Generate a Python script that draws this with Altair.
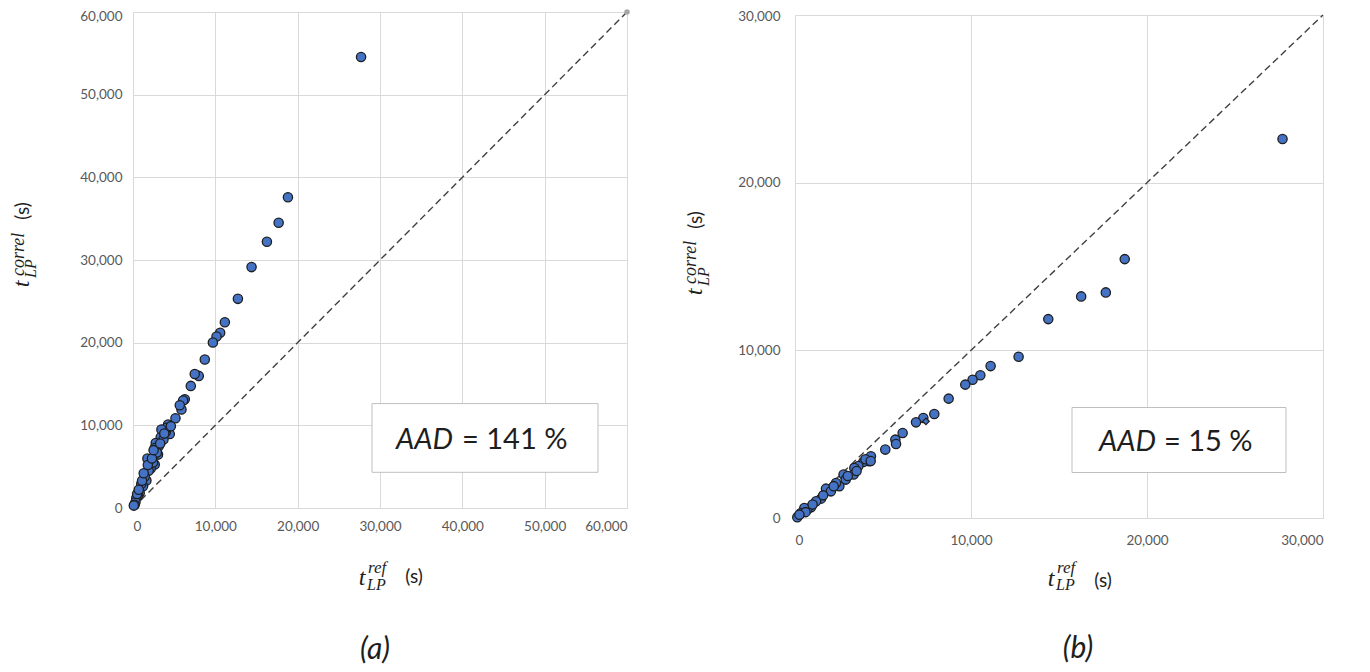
import altair as alt
import pandas as pd

# ---------------- data ----------------
# panel (a)
a_ref = [27700, 18820, 17690, 16265, 14400, 12740, 11155, 10585, 10145, 9700,
         8720, 7990, 7500, 7020, 6290, 6085, 5885, 5680, 5160, 4260,
         4465, 3980, 4100, 3370, 3450, 3700, 2760, 3130, 3040, 2640,
         2900, 1750, 2640, 2150, 2430, 1900, 1630, 1420, 1220, 1000,
         815, 600, 400, 300, 200, 100,
         500, 700, 1100, 1300, 1800, 2300, 2500, 3300, 3800, 4600]
a_cor = [54550, 37600, 34500, 32200, 29140, 25300, 22480, 21190, 20750, 20020,
         17960, 15980, 16220, 14770, 13160, 13000, 11910, 12430, 10860, 10090,
         8960, 9200, 9700, 8560, 9500, 8300, 7870, 7470, 6460, 7260,
         6700, 5980, 5250, 4770, 5500, 4500, 3315, 3800, 2630, 2900,
         1820, 1500, 1210, 700, 400, 290,
         1700, 2200, 3300, 4200, 5200, 6000, 7000, 7800, 9000, 9900]
# panel (b)
b_ref = [27700, 18735, 17660, 16260, 14390, 12705, 11115, 10530, 10090, 9675,
         8730, 7915, 7290, 6875, 6115, 5700, 5740, 5130, 4315, 4220,
         3880, 4000, 3600, 3370, 3330, 2760, 2880, 2520, 2330, 1760,
         2040, 1480, 1200, 910, 700, 530, 340, 130,
         1000, 1600, 2200, 3000, 3500, 4300, 600, 250]
b_cor = [22600, 15440, 13455, 13216, 11862, 9618, 9060, 8510, 8250, 7955,
         7120, 6200, 5965, 5705, 5070, 4675, 4415, 4080, 3680, 3380,
         3340, 3500, 3100, 2980, 2590, 2590, 2290, 1890, 2090, 1750,
         1590, 1155, 1000, 640, 500, 600, 300, 50,
         800, 1350, 1900, 2500, 2800, 3400, 350, 200]
b_ref_diamond = [7440]
b_cor_diamond = [5765]

a_diag = [0, 60000]
b_diag = [0, 30000]
a_ticks = [0, 10000, 20000, 30000, 40000, 50000, 60000]
b_ticks = [0, 10000, 20000, 30000]
a_aad = "= 141 %"
b_aad = "= 15 %"

BLUE = "#4472C4"
GRID = "#d9d9d9"
LABEL = "#595959"
SANS = "Lato"
SERIF = "Liberation Serif"
INK = "#1e1e1e"

ONE = pd.DataFrame({"k": [0]})


def txt(s, x, y, size, font=SANS, style="normal", align="center", angle=0, color=INK):
    kw = dict(text=s, font=font, fontSize=size, fontStyle=style, align=align,
              baseline="alphabetic", color=color)
    if angle:
        kw["angle"] = angle
    return alt.Chart(ONE).mark_text(**kw).encode(x=alt.value(x), y=alt.value(y))


def box(x1, x2, y1, y2):
    return alt.Chart(ONE).mark_rect(fill="white", stroke="#bfbfbf", strokeWidth=1).encode(
        x=alt.value(x1), x2=alt.value(x2), y=alt.value(y1), y2=alt.value(y2))


def panel(ref, cor, diag, ticks, w, h, lpx, lpy, lsize, top_off, extras):
    xs = alt.Scale(domain=[0, diag[1]], nice=False)
    ys = alt.Scale(domain=[0, diag[1]], nice=False)
    ax = dict(values=ticks, format=",.0f", title=None, grid=True, gridColor=GRID,
              gridWidth=1, domainColor=GRID, domainWidth=1, ticks=False,
              labelFont=SANS, labelFontSize=lsize, labelColor=LABEL)
    X = alt.X("ref:Q", scale=xs, axis=alt.Axis(labelPadding=lpx, **ax))
    Y = alt.Y("cor:Q", scale=ys, axis=alt.Axis(
        labelPadding=lpy,
        labelOffset=alt.condition(f"datum.value == {diag[1]}", alt.value(top_off), alt.value(0)),
        **ax))
    line = alt.Chart(pd.DataFrame({"ref": diag, "cor": diag})).mark_line(
        color="#404040", strokeDash=[7, 4], strokeWidth=1.4).encode(x=X, y=Y)
    pts = alt.Chart(pd.DataFrame({"ref": ref, "cor": cor})).mark_circle(
        size=86, fill=BLUE, stroke=INK, strokeWidth=1.3, opacity=1).encode(
        x="ref:Q", y="cor:Q")
    return alt.layer(line, *extras[0], pts, *extras[1]).properties(width=w, height=h)


# ---- panel (a) ----
a_end = alt.Chart(pd.DataFrame({"ref": [a_diag[1]], "cor": [a_diag[1]]})).mark_circle(
    size=30, color="#a6a6a6", opacity=1).encode(x="ref:Q", y="cor:Q")
a_front = [
    box(239, 465, 391.6, 460.3),
    txt("AAD", 320, 437, 29, style="italic", align="right"),
    txt(a_aad, 329, 437, 29, align="left"),
    # y title
    txt("t", -104, 272, 24, SERIF, "italic", "center", 270),
    txt("correl", -109, 264, 18, SERIF, "italic", "left", 270),
    txt("LP", -97, 266, 16, SERIF, "italic", "left", 270),
    txt("(s)", -104, 199, 19, SANS, "normal", "center", 270),
    # x title
    txt("t", 229, 573, 24, SERIF, "italic", "center"),
    txt("ref", 235, 561, 17, SERIF, "italic", "left"),
    txt("LP", 234, 578, 16, SERIF, "italic", "left"),
    txt("(s)", 281, 571, 19, SANS, "normal", "center"),
    # caption
    txt("(a)", 242, 647, 30, SANS, "italic", "center"),
]
left = panel(a_ref, a_cor, a_diag, a_ticks, 494, 496, 11, 11, 13.5, 4, ([a_end], a_front))

# ---- panel (b) ----
b_dia = alt.Chart(pd.DataFrame({"ref": b_ref_diamond, "cor": b_cor_diamond})).mark_point(
    shape="diamond", filled=True, size=45, fill=BLUE, stroke=INK, strokeWidth=1.2,
    opacity=1).encode(x="ref:Q", y="cor:Q")
b_front = [
    box(277, 491, 392.5, 457.5),
    txt("AAD", 361, 435.5, 29, style="italic", align="right"),
    txt(b_aad, 369, 435.5, 29, align="left"),
    # y title
    txt("t", -93, 277, 24, SERIF, "italic", "center", 270),
    txt("correl", -99, 269, 18, SERIF, "italic", "left", 270),
    txt("LP", -86, 271, 16, SERIF, "italic", "left", 270),
    txt("(s)", -93, 205, 19, SANS, "normal", "center", 270),
    # x title
    txt("t", 256, 571, 24, SERIF, "italic", "center"),
    txt("ref", 262, 558, 17, SERIF, "italic", "left"),
    txt("LP", 261, 575, 16, SERIF, "italic", "left"),
    txt("(s)", 308, 572, 19, SANS, "normal", "center"),
    # caption
    txt("(b)", 283, 643, 30, SANS, "italic", "center"),
]
right = panel(b_ref, b_cor, b_diag, b_ticks, 528, 503, 15, 15, 13.5, 1, ([], [b_dia] + b_front))

spacer = alt.Chart(ONE).mark_point(opacity=0).encode(
    x=alt.value(0), y=alt.value(0)).properties(width=528, height=3)

chart = alt.hconcat(
    left,
    alt.vconcat(spacer, right, spacing=0, bounds="flush"),
    spacing=168, bounds="flush",
).properties(
    padding={"left": 2, "top": 1, "right": 0, "bottom": 0}
).configure_view(stroke=None)

chart.save("out.html", embed_options={"renderer": "svg", "actions": False})
